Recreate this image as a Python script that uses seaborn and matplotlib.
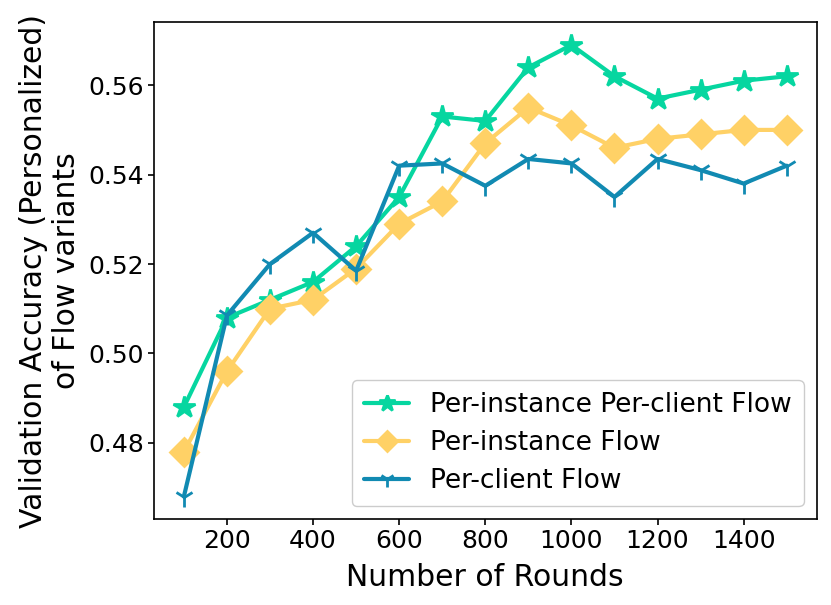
import pandas as pd
import numpy as np
import seaborn as sns
import matplotlib
matplotlib.use('Agg')
import matplotlib.pyplot as plt

rounds = [100, 200, 300, 400, 500, 600, 700, 800, 900, 1000, 1100, 1200, 1300, 1400, 1500]
per_instance_per_client = [0.488, 0.508, 0.512, 0.516, 0.524, 0.535, 0.553, 0.552, 0.564,
                           0.569, 0.562, 0.557, 0.559, 0.561, 0.562]
per_instance = [0.478, 0.496, 0.510, 0.512, 0.519, 0.529, 0.534, 0.547, 0.555,
                0.551, 0.546, 0.548, 0.549, 0.550, 0.550]
per_client = [0.468, 0.5085, 0.520, 0.527, 0.5185, 0.542, 0.5425, 0.5375, 0.5435,
              0.5425, 0.535, 0.5435, 0.541, 0.538, 0.542]

labels = ['Per-instance Per-client Flow', 'Per-instance Flow', 'Per-client Flow']
colors = ['#06d6a0', '#ffd166', '#118ab2']
markers = ['*', 'D', '1']
msizes = [16, 14, 15]

sns.set_style('ticks')
plt.rcParams['font.family'] = ['DejaVu Sans']
for k in ['text.color', 'axes.labelcolor', 'xtick.color', 'ytick.color']:
    plt.rcParams[k] = 'black'

fig, ax = plt.subplots(figsize=(8.31, 6.05), dpi=100)
for vals, lab, c, m, ms in zip([per_instance_per_client, per_instance, per_client],
                               labels, colors, markers, msizes):
    sns.lineplot(x=rounds, y=vals, ax=ax, label=lab, color=c, marker=m,
                 markersize=ms, linewidth=3, markeredgecolor=c, markeredgewidth=2)

ax.set_xticks([200, 400, 600, 800, 1000, 1200, 1400])
ax.set_yticks([0.48, 0.50, 0.52, 0.54, 0.56])
ax.set_yticklabels(['0.48', '0.50', '0.52', '0.54', '0.56'])
ax.tick_params(labelsize=18, length=4.5, width=1.2, color='black', pad=2.5)
ax.set_xlabel('Number of Rounds', fontsize=21.5, labelpad=7)
ax.set_ylabel('Validation Accuracy (Personalized)\nof Flow variants', fontsize=21.5,
              labelpad=5)
for s in ax.spines.values():
    s.set_color('black')
    s.set_linewidth(1.2)
ax.legend(loc='lower right', fontsize=19, framealpha=1, handlelength=1.7,
          labelspacing=0.45, borderpad=0.45, markerscale=0.75)
plt.subplots_adjust(left=0.185, right=0.983, top=0.963, bottom=0.142)
plt.savefig('out.png', dpi=100)
